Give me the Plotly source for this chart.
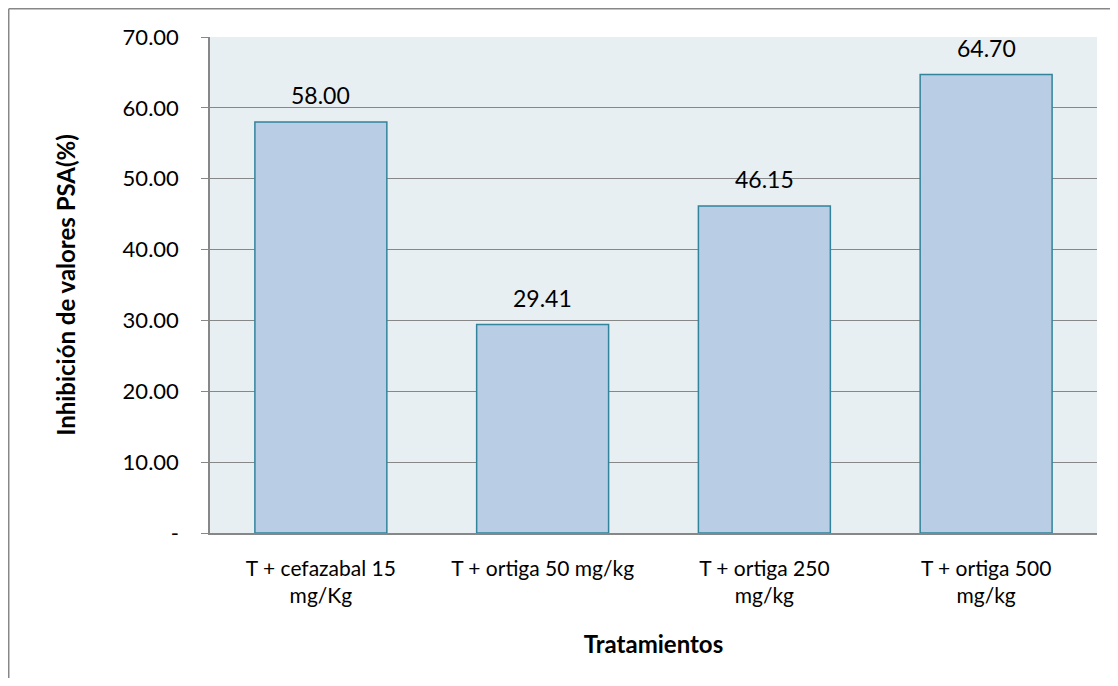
import plotly.graph_objects as go

categories = ["T + cefazabal 15<br>mg/Kg", "T + ortiga 50 mg/kg", "T + ortiga 250<br>mg/kg", "T + ortiga 500<br>mg/kg"]
values = [58.00, 29.41, 46.15, 64.70]
tick_vals = [0, 10, 20, 30, 40, 50, 60, 70]
tick_text = ["-", "10.00", "20.00", "30.00", "40.00", "50.00", "60.00", "70.00"]

FONT = "Lato, 'Open Sans', sans-serif"
GRAY = "#878787"

fig = go.Figure()
fig.add_trace(go.Bar(
    x=categories, y=values,
    marker=dict(color="#B9CDE5", line=dict(color="#31849B", width=1.5)),
    showlegend=False,
))

annotations = [
    dict(x=c, y=v, xref="x", yref="y", text=f"{v:.2f}", showarrow=False,
         yanchor="middle", yshift=27, font=dict(size=23, color="#000000", family=FONT))
    for c, v in zip(categories, values)
]

fig.update_layout(
    width=1102, height=670,
    margin=dict(l=202, r=13, t=29, b=145),
    paper_bgcolor="white", plot_bgcolor="#E8EFF3",
    bargap=0.405,
    showlegend=False,
    font=dict(family=FONT, size=21, color="#000000"),
    xaxis=dict(
        showline=True, linecolor=GRAY, linewidth=1.5,
        ticks="", tickfont=dict(size=21), showgrid=False,
        ticklabelstandoff=16,
        title=dict(text="<b>Tratamientos</b>", font=dict(size=24), standoff=30),
    ),
    yaxis=dict(
        range=[0, 70], tickvals=tick_vals, ticktext=tick_text,
        showline=True, linecolor=GRAY, linewidth=1.5,
        showgrid=True, gridcolor=GRAY, gridwidth=1,
        ticks="outside", ticklen=7, tickcolor=GRAY,
        tickfont=dict(size=22), zeroline=False,
        ticklabelstandoff=18,
        title=dict(text="<b>Inhibición de valores PSA(%)</b>", font=dict(size=24), standoff=40),
    ),
    annotations=annotations,
    shapes=[
        dict(type="line", xref="paper", yref="paper", x0=-0.2269, x1=1.05, y0=1.057, y1=1.057,
             line=dict(color=GRAY, width=1.5)),
        dict(type="line", xref="paper", yref="paper", x0=-0.2269, x1=-0.2269, y0=1.057, y1=-0.35,
             line=dict(color=GRAY, width=1.5)),
    ],
)

fig.write_html("out.html")
